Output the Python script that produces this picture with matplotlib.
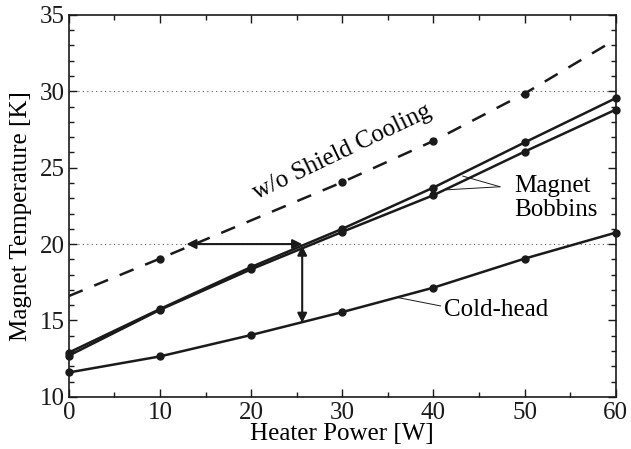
import matplotlib
matplotlib.use('Agg')
import matplotlib.pyplot as plt
from matplotlib.ticker import MultipleLocator

# values
power = [0, 10, 20, 30, 40, 50, 60]
cold_head = [11.6, 12.65, 14.05, 15.55, 17.15, 19.05, 20.75]
bobbin_a = [12.9, 15.75, 18.5, 21.0, 23.7, 26.65, 29.55]
bobbin_b = [12.7, 15.7, 18.35, 20.8, 23.2, 26.05, 28.8]

# w/o shield cooling curve (dots only at 10, 30, 40, 50)
noshield_x = [0, 10, 30, 40, 50, 60]
noshield_y = [16.6, 19.05, 24.05, 26.75, 29.85, 33.4]
noshield_dot_x = [10, 30, 40, 50]
noshield_dot_y = [19.05, 24.05, 26.75, 29.85]

plt.rcParams['font.family'] = ['Liberation Serif', 'DejaVu Serif']
plt.rcParams['font.size'] = 18

fig = plt.figure(figsize=(6.31, 4.49), dpi=100)
ax = fig.add_axes([0.109, 0.116, 0.867, 0.851])

k = '#1a1a1a'
ax.axhline(20, color='#555555', lw=0.8, ls=(0, (1, 3)), zorder=1)
ax.axhline(30, color='#555555', lw=0.8, ls=(0, (1, 3)), zorder=1)

ax.plot(power, cold_head, '-o', color=k, lw=1.8, ms=5, clip_on=False, zorder=3)
ax.plot(power, bobbin_a, '-o', color=k, lw=1.8, ms=5, clip_on=False, zorder=3)
ax.plot(power, bobbin_b, '-o', color=k, lw=1.8, ms=5, clip_on=False, zorder=3)
ax.plot(noshield_x, noshield_y, '--', color=k, lw=1.8, dashes=(6, 5), zorder=3)
ax.plot(noshield_dot_x, noshield_dot_y, 'o', color=k, ms=5, zorder=3)

# double arrows
ax.annotate('', xy=(12.9, 20), xytext=(25.6, 20),
            arrowprops=dict(arrowstyle='<|-|>', color=k, lw=1.5,
                            mutation_scale=14, shrinkA=0, shrinkB=0))
ax.annotate('', xy=(25.6, 19.9), xytext=(25.6, 14.85),
            arrowprops=dict(arrowstyle='<|-|>', color=k, lw=1.5,
                            mutation_scale=14, shrinkA=0, shrinkB=0))

# labels
ax.text(30.0, 26.0, 'w/o Shield Cooling', rotation=25.5, ha='center', va='center')
ax.text(48.9, 23.0, 'Magnet\nBobbins', ha='left', va='center', linespacing=1.15)
ax.annotate('', xy=(43.2, 24.45), xytext=(47.3, 23.75),
            arrowprops=dict(arrowstyle='-', color=k, lw=0.7, shrinkA=0, shrinkB=0))
ax.annotate('', xy=(41.4, 23.55), xytext=(47.3, 23.75),
            arrowprops=dict(arrowstyle='-', color=k, lw=0.7, shrinkA=0, shrinkB=0))
ax.text(41.2, 15.7, 'Cold-head', ha='left', va='center')
ax.annotate('', xy=(36.1, 16.5), xytext=(40.8, 15.95),
            arrowprops=dict(arrowstyle='-', color=k, lw=0.7, shrinkA=0, shrinkB=0))

ax.set_xlim(0, 60)
ax.set_ylim(10, 35)
ax.xaxis.set_major_locator(MultipleLocator(10))
ax.xaxis.set_minor_locator(MultipleLocator(5))
ax.yaxis.set_major_locator(MultipleLocator(5))
ax.yaxis.set_minor_locator(MultipleLocator(1))
ax.tick_params(which='both', direction='in', top=True, right=True, colors=k,
               labelsize=18)
ax.tick_params(axis='x', pad=4)
ax.tick_params(axis='y', pad=3)
ax.tick_params(which='major', length=6, width=1)
ax.tick_params(which='minor', length=3.5, width=1)
for s in ax.spines.values():
    s.set_linewidth(1.2)
    s.set_color(k)

ax.set_xlabel('Heater Power [W]', fontsize=18, va='center')
ax.set_ylabel('Magnet Temperature [K]', fontsize=18, va='center')
ax.xaxis.set_label_coords(0.5, -0.097)
ax.yaxis.set_label_coords(-0.087, 0.474)

plt.savefig('out.png', dpi=100)
